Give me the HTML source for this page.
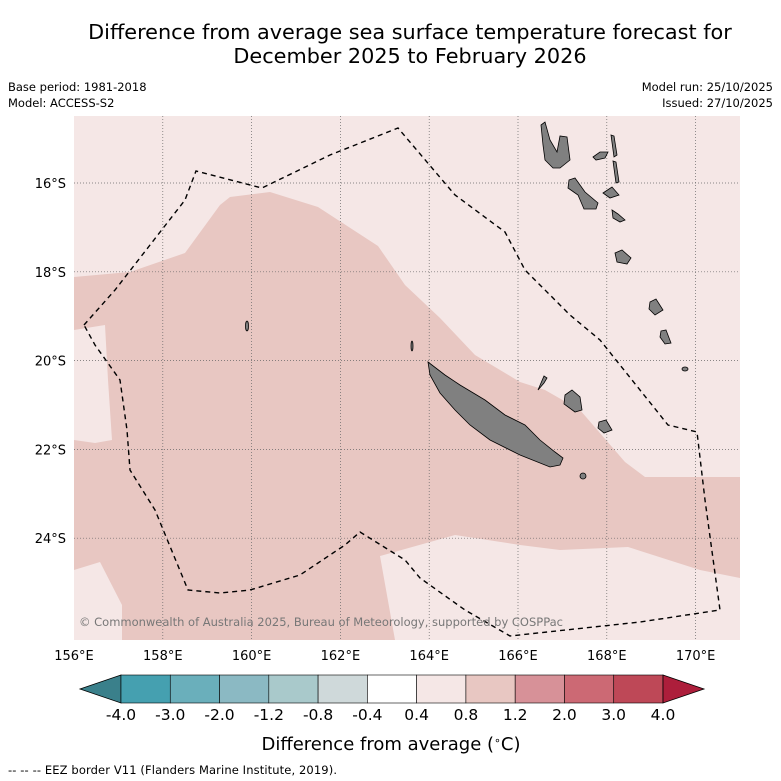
<!DOCTYPE html>
<html><head><meta charset="utf-8"><style>
body{margin:0;background:#fff;font-family:"DejaVu Sans","Liberation Sans",sans-serif}
svg{display:block}
</style></head><body>
<svg width="781" height="781" viewBox="0 0 781 781" xmlns="http://www.w3.org/2000/svg">
<text x="410" y="39" font-size="20.8" text-anchor="middle" fill="#000">Difference from average sea surface temperature forecast for</text>
<text x="410" y="63" font-size="20.8" text-anchor="middle" fill="#000">December 2025 to February 2026</text>
<text x="8" y="91" font-size="11.5">Base period: 1981-2018</text>
<text x="8" y="107" font-size="11.5">Model: ACCESS-S2</text>
<text x="773" y="91" font-size="11.5" text-anchor="end">Model run: 25/10/2025</text>
<text x="773" y="107" font-size="11.5" text-anchor="end">Issued: 27/10/2025</text>
<defs><clipPath id="mc"><rect x="74" y="116" width="666" height="524"/></clipPath></defs>
<g clip-path="url(#mc)">
<rect x="74" y="116" width="666" height="524" fill="#f5e7e6"/>
<polygon fill="#e8c7c2" points="74,277 130,272 185,253 220,205 230,197 270,192 318,207 378,246 405,285 440,318 475,355 520,382 545,390 580,410 625,462 645,477 740,477 740,578 700,570 628,547 560,550 520,545 455,535 380,556 395,640 122,640 122,605 100,562 74,570"/>
<polygon fill="#f5e7e6" points="74,330 105,325 108,380 112,440 95,443 74,440"/>
<g stroke="#666" stroke-width="0.7" stroke-dasharray="1,2" id="grid"></g>
<g fill="#808080" stroke="#000" stroke-width="0.8">
<polygon points="428,362 445,375 460,385 485,400 505,415 525,425 540,440 555,452 563,458 560,465 550,467 520,455 490,440 470,425 455,410 440,393 430,375"/>
<polygon points="541,125 545,122 550,140 557,152 560,136 567,137 570,160 560,168 553,168 545,160 543,145"/>
<polygon points="569,180 575,178 585,192 598,203 596,209 584,209 578,195 568,188"/>
<polygon points="593,157 600,152 608,152 605,158 596,160"/>
<polygon points="611,135 614,136 617,155 614,157"/>
<polygon points="613,161 616,162 619,182 616,183"/>
<polygon points="603,193 612,187 619,195 610,198"/>
<polygon points="612,210 618,214 625,220 620,222 613,218"/>
<polygon points="615,253 622,250 631,258 627,264 617,262"/>
<polygon points="650,302 656,299 663,310 655,315 649,309"/>
<polygon points="661,331 666,330 671,343 665,344 660,337"/>
<polygon points="565,395 572,390 580,397 582,410 575,412 564,404"/>
<polygon points="599,422 606,420 612,430 604,433 598,428"/>
<polygon points="538,390 544,383 547,378 544,376"/>
<ellipse cx="247" cy="326" rx="1.5" ry="5"/>
<ellipse cx="583" cy="476" rx="3" ry="3"/>
<ellipse cx="685" cy="369" rx="3" ry="2"/>
<ellipse cx="412" cy="346" rx="1" ry="5"/>
</g>
<path fill="none" stroke="#000" stroke-width="1.4" stroke-dasharray="5,4" d="M84,325 L115,290 L150,245 L185,200 L196,171 L262,188 L330,155 L398,128 L455,195 L505,232 L525,270 L570,315 L600,340 L632,380 L668,425 L697,432 L705,500 L720,610 L640,622 L510,636 L465,610 L420,578 L405,560 L360,532 L345,545 L300,575 L250,590 L220,593 L188,590 L155,510 L130,470 L127,430 L120,380 L95,345 Z"/>
<text x="79" y="626" font-size="11.5" fill="#777" textLength="484">© Commonwealth of Australia 2025, Bureau of Meteorology, supported by COSPPac</text>
</g>
<g id="ticks" font-size="13" fill="#000"></g>
<g id="cbar"></g>
<text x="391" y="750" font-size="18" text-anchor="middle">Difference from average (<tspan baseline-shift="super" font-size="11">∘</tspan>C)</text>
<text x="8" y="774" font-size="11.5" textLength="329">-- -- -- EEZ border V11 (Flanders Marine Institute, 2019).</text>
</svg>
<script>
const lonTicks=[156,158,160,162,164,166,168,170];
const latTicks=[16,18,20,22,24];
const cbLabels=["-4.0","-3.0","-2.0","-1.2","-0.8","-0.4","0.4","0.8","1.2","2.0","3.0","4.0"];
const cbColors=["#45a0b0","#6aafbb","#8bb9c3","#a9c9cb","#cfd9da","#ffffff","#f5e7e6","#e8c7c2","#d79198","#cc6974","#be4857"];
const NS="http://www.w3.org/2000/svg";
function xLon(l){return 74+(l-156)*44.4;}
function yLat(l){return 183+(l-16)*44.4;}
const grid=document.getElementById('grid'),ticks=document.getElementById('ticks'),cb=document.getElementById('cbar');
function mk(t,a,p){const e=document.createElementNS(NS,t);for(const k in a)e.setAttribute(k,a[k]);p.appendChild(e);return e;}
lonTicks.forEach(l=>{const x=xLon(l);
 if(l>156){const g=mk('line',{x1:x,x2:x,y1:116,y2:640},grid);
 
 }
 const t=mk('text',{x:x,y:660,'text-anchor':'middle'},ticks);t.textContent=l+'°E';
 
 });
latTicks.forEach(l=>{const y=yLat(l);
 const g=mk('line',{x1:74,x2:740,y1:y,y2:y},grid);
 
 
 const t=mk('text',{x:66,y:y+5,'text-anchor':'end'},ticks);t.textContent=l+'°S';
 
 });
const x0=121,x1=663,y0=675,y1=703,n=cbColors.length,w=(x1-x0)/n;
let tl=mk('polygon',{points:`${x0},${y0} 80,${(y0+y1)/2} ${x0},${y1}`,fill:'#3a808b',stroke:'#000','stroke-width':0.8},cb);


cbColors.forEach((c,i)=>{const r=mk('rect',{x:x0+i*w,y:y0,width:w,height:y1-y0,fill:c,stroke:'#000','stroke-width':0.6},cb);
 
 });
let tr=mk('polygon',{points:`${x1},${y0} 704,${(y0+y1)/2} ${x1},${y1}`,fill:'#ad1e3b',stroke:'#000','stroke-width':0.8},cb);


cbLabels.forEach((s,i)=>{const t=mk('text',{x:x0+i*(x1-x0)/(cbLabels.length-1),y:720,'text-anchor':'middle','font-size':15.5},cb);t.textContent=s;
 
 });
</script>
</body></html>
